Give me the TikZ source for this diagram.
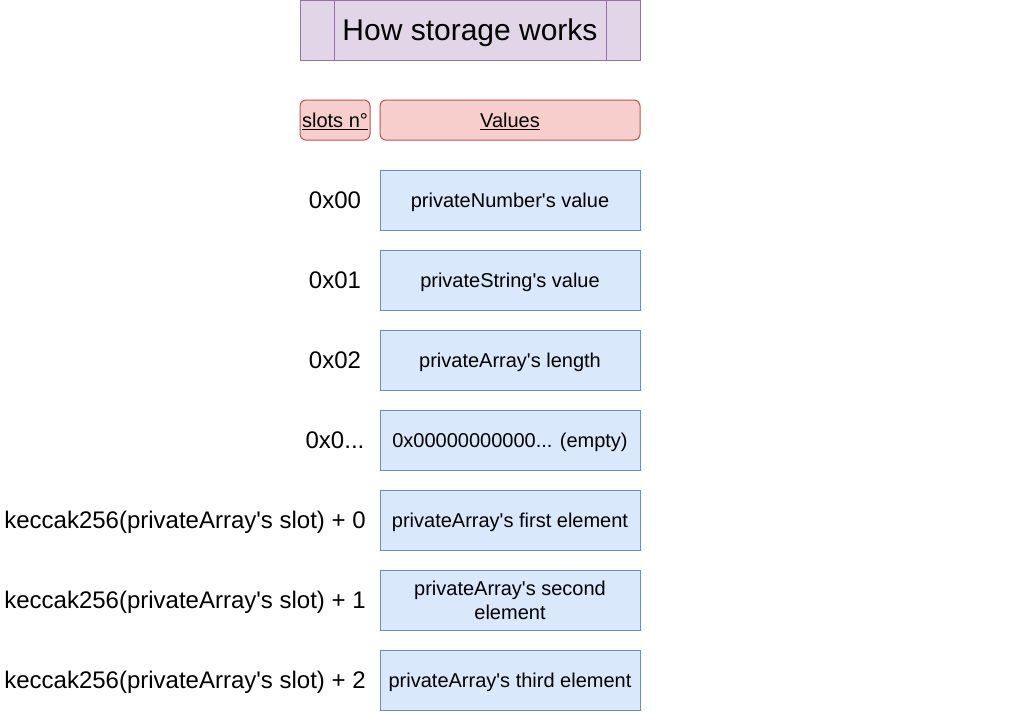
\documentclass[tikz,border=0pt]{standalone}
\usepackage{fontspec}
\setmainfont{Liberation Sans}
\usetikzlibrary{positioning}
\definecolor{titlefill}{HTML}{E1D5E7}
\definecolor{titleline}{HTML}{9673A6}
\definecolor{headfill}{HTML}{F8CECC}
\definecolor{headline}{HTML}{B85450}
\definecolor{valfill}{HTML}{DAE8FC}
\definecolor{valline}{HTML}{6C8EBF}
\newcommand{\ap}{\textquotesingle}
\tikzset{
  valbox/.style={draw=valline, fill=valfill, line width=0.75pt, minimum width=195pt,
    minimum height=45pt, inner sep=0pt, align=center, text height=10.8pt, text depth=0pt,
    font=\fontsize{15}{18}\selectfont},
  headbox/.style={draw=headline, fill=headfill, line width=0.75pt, rounded corners=4.5pt,
    minimum height=30pt, inner sep=0pt, text height=10.8pt, text depth=0pt,
    font=\fontsize{15}{18}\selectfont},
  slotlabel/.style={inner sep=0pt, text height=13pt, text depth=0pt,
    font=\fontsize{18}{21}\selectfont}
}
\begin{document}
\begin{tikzpicture}[x=0.75pt, y=-0.75pt]
            \useasboundingbox (0,0) rectangle (1021,711);

            \node[draw=titleline, fill=titlefill, line width=0.75pt, minimum width=255pt,
              minimum height=45pt, inner sep=0pt, text height=16.2pt, text depth=0pt,
              font=\fontsize{22.5}{26}\selectfont]
              (title) at (470, 30) {How storage works};
            \draw[titleline, line width=0.75pt] (334, 0) -- (334, 60);
            \draw[titleline, line width=0.75pt] (606, 0) -- (606, 60);

            \node[headbox, minimum width=52.5pt] (slots) at (335, 120) {\underline{slots n°}};
            \node[headbox, minimum width=195pt] (values) at (510, 120) {\underline{Values}};

            \node[valbox] (v0) at (510, 200) {privateNumber\ap s value};
            \node[valbox] (v1) at (510, 280) {privateString\ap s value};
            \node[valbox] (v2) at (510, 360) {privateArray\ap s length};
            \node[valbox] (v3) at (510, 440) {0x00000000000... (empty)};
            \node[valbox] (v4) at (510, 520) {privateArray\ap s first element};
            \node[valbox, text height={}, text depth={}] (v5) at (510, 600) {privateArray\ap s second\\element};
            \node[valbox] (v6) at (510, 680) {privateArray\ap s third element};

            \node[slotlabel] (s0) at (335, 200) {0x00};
            \node[slotlabel] (s1) at (335, 280) {0x01};
            \node[slotlabel] (s2) at (335, 360) {0x02};
            \node[slotlabel] (s3) at (335, 440) {0x0...};
            \node[slotlabel, anchor=east] (s4) at (366, 520) {keccak256(privateArray\ap s slot) + 0};
            \node[slotlabel, anchor=east] (s5) at (366, 600) {keccak256(privateArray\ap s slot) + 1};
            \node[slotlabel, anchor=east] (s6) at (366, 680) {keccak256(privateArray\ap s slot) + 2};

          \end{tikzpicture}
\end{document}
